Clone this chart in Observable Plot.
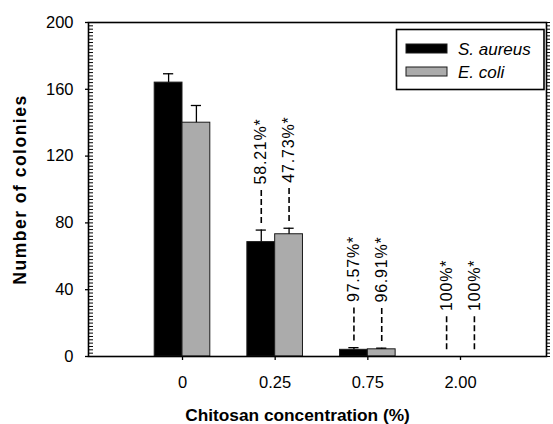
<!DOCTYPE html>
<html>
<head>
<meta charset="utf-8">
<script src="https://cdn.jsdelivr.net/npm/d3@7"></script>
<script src="https://cdn.jsdelivr.net/npm/@observablehq/plot@0.6"></script>
<style>
  body { margin: 0; background: #fff; }
  #wrap { position: relative; width: 553px; height: 424px; }
  #legend { position: absolute; left: 0; top: 0; pointer-events: none; }
</style>
</head>
<body>
<div id="wrap"></div>
<script>
// ---- data ----
const groups = ["0", "0.25", "0.75", "2.00"];
const series = ["S. aureus", "E. coli"];
const seriesColors = ["#000000", "#ababab"];
const sAureus = [164, 68.5, 4.0, 0];
const sAureusErr = [5.3, 7.2, 1.3, 0];
const eColi = [140, 73.2, 4.3, 0];
const eColiErr = [10.3, 3.6, 0.7, 0];
const sAureusLabel = ["", "58.21%*", "97.57%*", "100%*"];
const eColiLabel = ["", "47.73%*", "96.91%*", "100%*"];
const yTicks = [0, 40, 80, 120, 160, 200];
const yMinorTicks = d3.range(0, 201, 2);
const xTitle = "Chitosan concentration (%)";
const yTitle = "Number of colonies";

// ---- table built from arrays ----
const barW = 0.3;
const rows = [];
groups.forEach((g, i) => {
  rows.push({series: series[0], i, x1: i - barW, x2: i, xc: i - barW / 2,
             value: sAureus[i], err: sAureusErr[i], label: sAureusLabel[i]});
  rows.push({series: series[1], i, x1: i, x2: i + barW, xc: i + barW / 2,
             value: eColi[i], err: eColiErr[i], label: eColiLabel[i]});
});
rows.forEach(d => d.top = d.value + d.err);
const bars = rows.filter(d => d.value > 0);
const errs = rows.filter(d => d.err > 0);
const labeled = rows.filter(d => d.label);
const capHalf = 0.055;
const font = "'Liberation Sans', Arial, Helvetica, sans-serif";

const chart = Plot.plot({
  width: 553, height: 424,
  marginLeft: 88, marginRight: 7, marginTop: 22, marginBottom: 68,
  style: {fontFamily: font, fontSize: "16.5px", color: "#000", background: "#fff", overflow: "visible"},
  x: {domain: [-1.0144, 3.928]},
  y: {domain: [0, 200]},
  color: {domain: series, range: seriesColors},
  marks: [
    Plot.rect(bars, {x1: "x1", x2: "x2", y1: 0, y2: "value", fill: "series", stroke: "#1a1a1a", strokeWidth: 1}),
    Plot.ruleX(errs, {x: "xc", y1: "value", y2: "top", stroke: "#000", strokeWidth: 1.3}),
    Plot.ruleY(errs, {y: "top", x1: d => d.xc - capHalf, x2: d => d.xc + capHalf, stroke: "#000", strokeWidth: 1.3}),
    Plot.ruleX(labeled, {x: "xc", y1: d => d.top + 4, y2: d => d.top + 24, stroke: "#000", strokeWidth: 1.6, strokeDasharray: "6,3"}),
    Plot.text(labeled, {x: "xc", y: d => d.top + 25.5, dy: -3, text: "label", rotate: -90, textAnchor: "start", lineAnchor: "middle", fontSize: 16, fill: "#000"}),
    Plot.axisY({anchor: "left", ticks: yMinorTicks, tickSize: 5, dx: 5, tickFormat: () => "", label: null, strokeWidth: 1}),
    Plot.axisY({anchor: "left", ticks: yTicks, tickSize: 3, tickPadding: 12, label: null, fontSize: 16.5, strokeWidth: 1.3}),
    Plot.axisY({anchor: "right", ticks: yMinorTicks, tickSize: 3, tickFormat: () => "", label: null, strokeWidth: 1}),
    Plot.axisX({ticks: [0, 1, 2, 3], tickFormat: i => groups[i], tickSize: 4, tickPadding: 16, label: null, fontSize: 16.5, strokeWidth: 1.3}),
    Plot.frame({stroke: "#000", strokeWidth: 1.6}),
    Plot.text([yTitle], {text: d => d, frameAnchor: "left", dx: -68, rotate: -90, textAnchor: "middle", lineAnchor: "middle", fontWeight: "bold", fontSize: 17.5, fill: "#000"}),
    Plot.text([xTitle], {text: d => d, frameAnchor: "bottom", dx: -20, dy: 58.5, textAnchor: "middle", lineAnchor: "middle", fontWeight: "bold", fontSize: 17.3, fill: "#000"})
  ]
});

// widen rotated texts slightly to match reference proportions
chart.querySelectorAll("text").forEach(t => {
  const s = t.textContent;
  if (s === yTitle) t.style.letterSpacing = "1.5px";
  else if (labeled.some(d => d.label === s)) t.style.letterSpacing = "0.8px";
});

document.getElementById("wrap").appendChild(chart);

// legend overlay
const legend = d3.select("#wrap").append("svg")
  .attr("id", "legend").attr("width", 553).attr("height", 424);
legend.append("rect").attr("x", 396.5).attr("y", 29.5).attr("width", 147.5).attr("height", 60)
  .attr("fill", "#fff").attr("stroke", "#000").attr("stroke-width", 1.6);
series.forEach((s, k) => {
  const y = 44 + k * 23;
  legend.append("rect").attr("x", 406).attr("y", y).attr("width", 41).attr("height", 9)
    .attr("fill", seriesColors[k]).attr("stroke", "#1a1a1a").attr("stroke-width", 1);
  legend.append("text").attr("x", 458).attr("y", y + 10.5)
    .attr("font-family", font).attr("font-style", "italic").attr("font-size", 17)
    .attr("fill", "#000").text(s);
});
</script>
</body>
</html>
